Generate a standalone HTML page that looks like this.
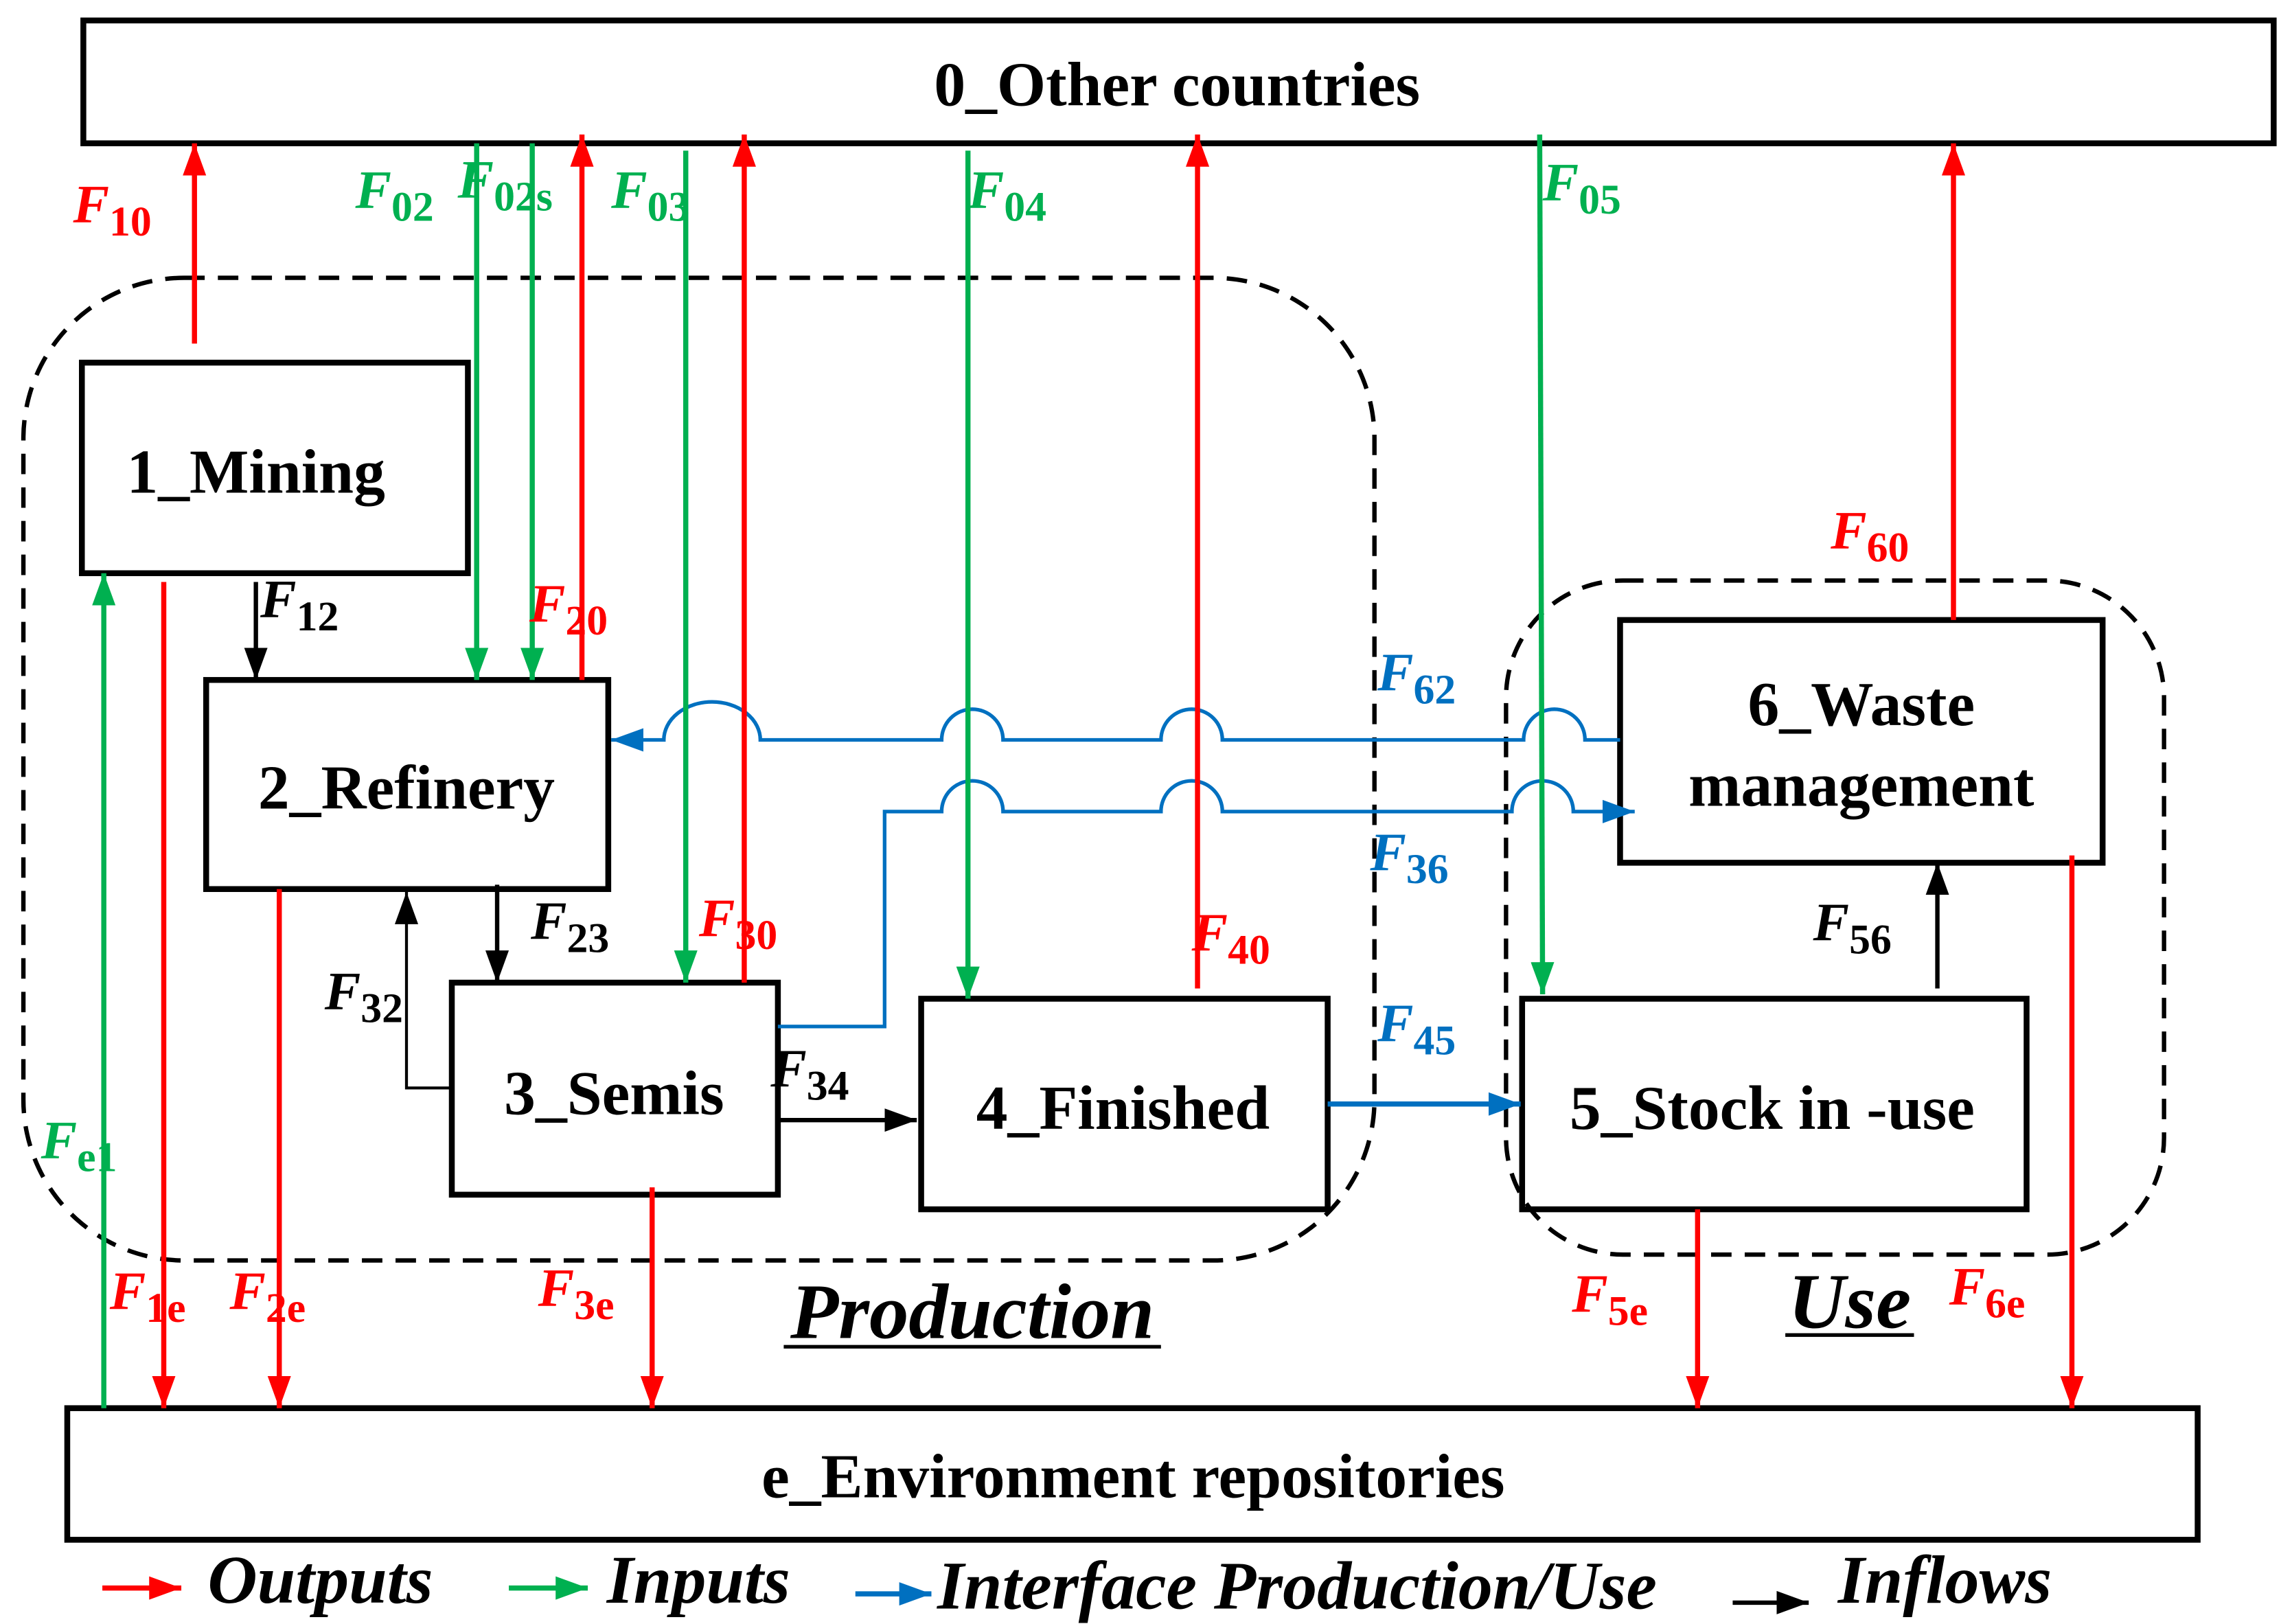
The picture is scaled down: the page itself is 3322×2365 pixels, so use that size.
<!DOCTYPE html>
<html><head><meta charset="utf-8"><style>
html,body{margin:0;padding:0;background:#fff;}
svg{display:block;}
text{font-family:"Liberation Serif",serif;font-weight:bold;}
.f{font-style:italic;font-size:37px;}
.s{font-style:normal;font-size:29px;}
.box{fill:none;stroke:#000;stroke-width:4;}
.t{font-size:43px;text-anchor:middle;}
.lg{font-style:italic;font-size:47px;}
</style></head><body>
<svg width="3322" height="2365" viewBox="0 0 1560 1110.6" preserveAspectRatio="none" xmlns="http://www.w3.org/2000/svg">
<defs>
<marker id="r" markerUnits="userSpaceOnUse" markerWidth="24" markerHeight="20" refX="22" refY="10" orient="auto"><path d="M0,2 L22,10 L0,18 Z" fill="#f00"/></marker>
<marker id="g" markerUnits="userSpaceOnUse" markerWidth="24" markerHeight="20" refX="22" refY="10" orient="auto"><path d="M0,2 L22,10 L0,18 Z" fill="#00b050"/></marker>
<marker id="k" markerUnits="userSpaceOnUse" markerWidth="24" markerHeight="20" refX="22" refY="10" orient="auto"><path d="M0,2 L22,10 L0,18 Z" fill="#000"/></marker>
<marker id="b" markerUnits="userSpaceOnUse" markerWidth="24" markerHeight="20" refX="22" refY="10" orient="auto"><path d="M0,2 L22,10 L0,18 Z" fill="#0070c0"/></marker>
</defs>
<rect width="1560" height="1111" fill="#fff"/>
<rect x="16" y="190" width="924" height="672" rx="110" fill="none" stroke="#000" stroke-width="3" stroke-dasharray="14,9"/>
<rect x="1030" y="397" width="450" height="461" rx="80" fill="none" stroke="#000" stroke-width="3" stroke-dasharray="14,9"/>
<rect class="box" x="57" y="14" width="1498" height="84"/>
<text class="t" x="805" y="72">0_Other countries</text>
<rect class="box" x="46" y="963" width="1457" height="90"/>
<text class="t" x="775" y="1024">e_Environment repositories</text>
<rect class="box" x="56" y="248" width="264" height="144"/>
<text class="t" x="175" y="337">1_Mining</text>
<rect class="box" x="141" y="465" width="275" height="143"/>
<text class="t" x="278" y="553">2_Refinery</text>
<rect class="box" x="309" y="672" width="223" height="145"/>
<text class="t" x="420" y="762">3_Semis</text>
<rect class="box" x="630" y="683" width="278" height="144"/>
<text class="t" x="768" y="772">4_Finished</text>
<rect class="box" x="1041" y="683" width="345" height="144"/>
<text class="t" x="1212" y="772">5_Stock in -use</text>
<rect class="box" x="1108" y="424" width="330" height="166"/>
<text class="t" x="1273" y="496">6_Waste</text>
<text class="t" x="1273" y="551">management</text>
<g fill="none" stroke="#0070c0" stroke-width="2.5">
<path d="M1108,506 L1084,506 A21,21 0 0 0 1042,506 L836,506 A21,21 0 0 0 794,506 L686,506 A21,21 0 0 0 644,506 L520,506 A33,26 0 0 0 454,506 L418,506" marker-end="url(#b)"/>
<path d="M532,702 L605,702 L605,555 L644,555 A21,21 0 0 1 686,555 L794,555 A21,21 0 0 1 836,555 L1034,555 A21,21 0 0 1 1076,555 L1118,555" marker-end="url(#b)"/>
<path d="M908,755 L1040,755" stroke-width="3.5" marker-end="url(#b)"/>
</g>
<g stroke="#f00" stroke-width="3.5" fill="none">
<line x1="133" y1="235" x2="133" y2="98" marker-end="url(#r)"/>
<line x1="398" y1="465" x2="398" y2="92" marker-end="url(#r)"/>
<line x1="509" y1="672" x2="509" y2="92" marker-end="url(#r)"/>
<line x1="819" y1="676" x2="819" y2="92" marker-end="url(#r)"/>
<line x1="1336" y1="424" x2="1336" y2="98" marker-end="url(#r)"/>
<line x1="112" y1="398" x2="112" y2="963" marker-end="url(#r)"/>
<line x1="191" y1="608" x2="191" y2="963" marker-end="url(#r)"/>
<line x1="446" y1="812" x2="446" y2="963" marker-end="url(#r)"/>
<line x1="1161" y1="827" x2="1161" y2="963" marker-end="url(#r)"/>
<line x1="1417" y1="585" x2="1417" y2="963" marker-end="url(#r)"/>
</g>
<g stroke="#00b050" stroke-width="3.5" fill="none">
<line x1="326" y1="98" x2="326" y2="465" marker-end="url(#g)"/>
<line x1="364" y1="98" x2="364" y2="465" marker-end="url(#g)"/>
<line x1="469" y1="103" x2="469" y2="672" marker-end="url(#g)"/>
<line x1="662" y1="103" x2="662" y2="683" marker-end="url(#g)"/>
<line x1="1053" y1="92" x2="1055" y2="680" marker-end="url(#g)"/>
<line x1="71" y1="963" x2="71" y2="392" marker-end="url(#g)"/>
</g>
<g stroke="#000" stroke-width="3" fill="none">
<line x1="175" y1="398" x2="175" y2="465" marker-end="url(#k)"/>
<line x1="340" y1="605" x2="340" y2="672" marker-end="url(#k)"/>
<path d="M309,744 L278,744 L278,610" stroke-width="2" marker-end="url(#k)"/>
<line x1="532" y1="766" x2="627" y2="766" marker-end="url(#k)"/>
<line x1="1325" y1="676" x2="1325" y2="590" marker-end="url(#k)"/>
</g>
<g class="f" fill="#f00">
<text x="50" y="152">F<tspan class="s" dy="9">10</tspan></text>
<text x="362" y="425">F<tspan class="s" dy="9">20</tspan></text>
<text x="478" y="640">F<tspan class="s" dy="9">30</tspan></text>
<text x="815" y="650">F<tspan class="s" dy="9">40</tspan></text>
<text x="1252" y="375">F<tspan class="s" dy="9">60</tspan></text>
<text x="75" y="895">F<tspan class="s" dy="9">1e</tspan></text>
<text x="157" y="895">F<tspan class="s" dy="9">2e</tspan></text>
<text x="368" y="893">F<tspan class="s" dy="9">3e</tspan></text>
<text x="1075" y="897">F<tspan class="s" dy="9">5e</tspan></text>
<text x="1333" y="892">F<tspan class="s" dy="9">6e</tspan></text>
</g>
<g class="f" fill="#00b050">
<text x="243" y="142">F<tspan class="s" dy="9">02</tspan></text>
<text x="313" y="135">F<tspan class="s" dy="9">02s</tspan></text>
<text x="418" y="142">F<tspan class="s" dy="9">03</tspan></text>
<text x="662" y="142">F<tspan class="s" dy="9">04</tspan></text>
<text x="1055" y="137">F<tspan class="s" dy="9">05</tspan></text>
<text x="28" y="792">F<tspan class="s" dy="9">e1</tspan></text>
</g>
<g class="f" fill="#000">
<text x="178" y="422">F<tspan class="s" dy="9">12</tspan></text>
<text x="363" y="642">F<tspan class="s" dy="9">23</tspan></text>
<text x="222" y="690">F<tspan class="s" dy="9">32</tspan></text>
<text x="527" y="743">F<tspan class="s" dy="9">34</tspan></text>
<text x="1240" y="643">F<tspan class="s" dy="9">56</tspan></text>
</g>
<g class="f" fill="#0070c0">
<text x="942" y="472">F<tspan class="s" dy="9">62</tspan></text>
<text x="937" y="595">F<tspan class="s" dy="9">36</tspan></text>
<text x="942" y="712">F<tspan class="s" dy="9">45</tspan></text>
</g>
<text x="665" y="915" text-anchor="middle" font-style="italic" font-size="54">Production</text>
<line x1="536" y1="921" x2="794" y2="921" stroke="#000" stroke-width="2.5"/>
<text x="1265" y="908" text-anchor="middle" font-style="italic" font-size="54">Use</text>
<line x1="1221" y1="913" x2="1309" y2="913" stroke="#000" stroke-width="2.5"/>
<line x1="70" y1="1086" x2="124" y2="1086" stroke="#f00" stroke-width="3.5" marker-end="url(#r)"/>
<text class="lg" x="142" y="1096">Outputs</text>
<line x1="348" y1="1086" x2="402" y2="1086" stroke="#00b050" stroke-width="3.5" marker-end="url(#g)"/>
<text class="lg" x="415" y="1096">Inputs</text>
<line x1="585" y1="1090" x2="637" y2="1090" stroke="#0070c0" stroke-width="3.5" marker-end="url(#b)"/>
<text class="lg" x="641" y="1100">Interface Production/Use</text>
<line x1="1185" y1="1096" x2="1237" y2="1096" stroke="#000" stroke-width="3" marker-end="url(#k)"/>
<text class="lg" x="1257" y="1096">Inflows</text>
</svg>
</body></html>
